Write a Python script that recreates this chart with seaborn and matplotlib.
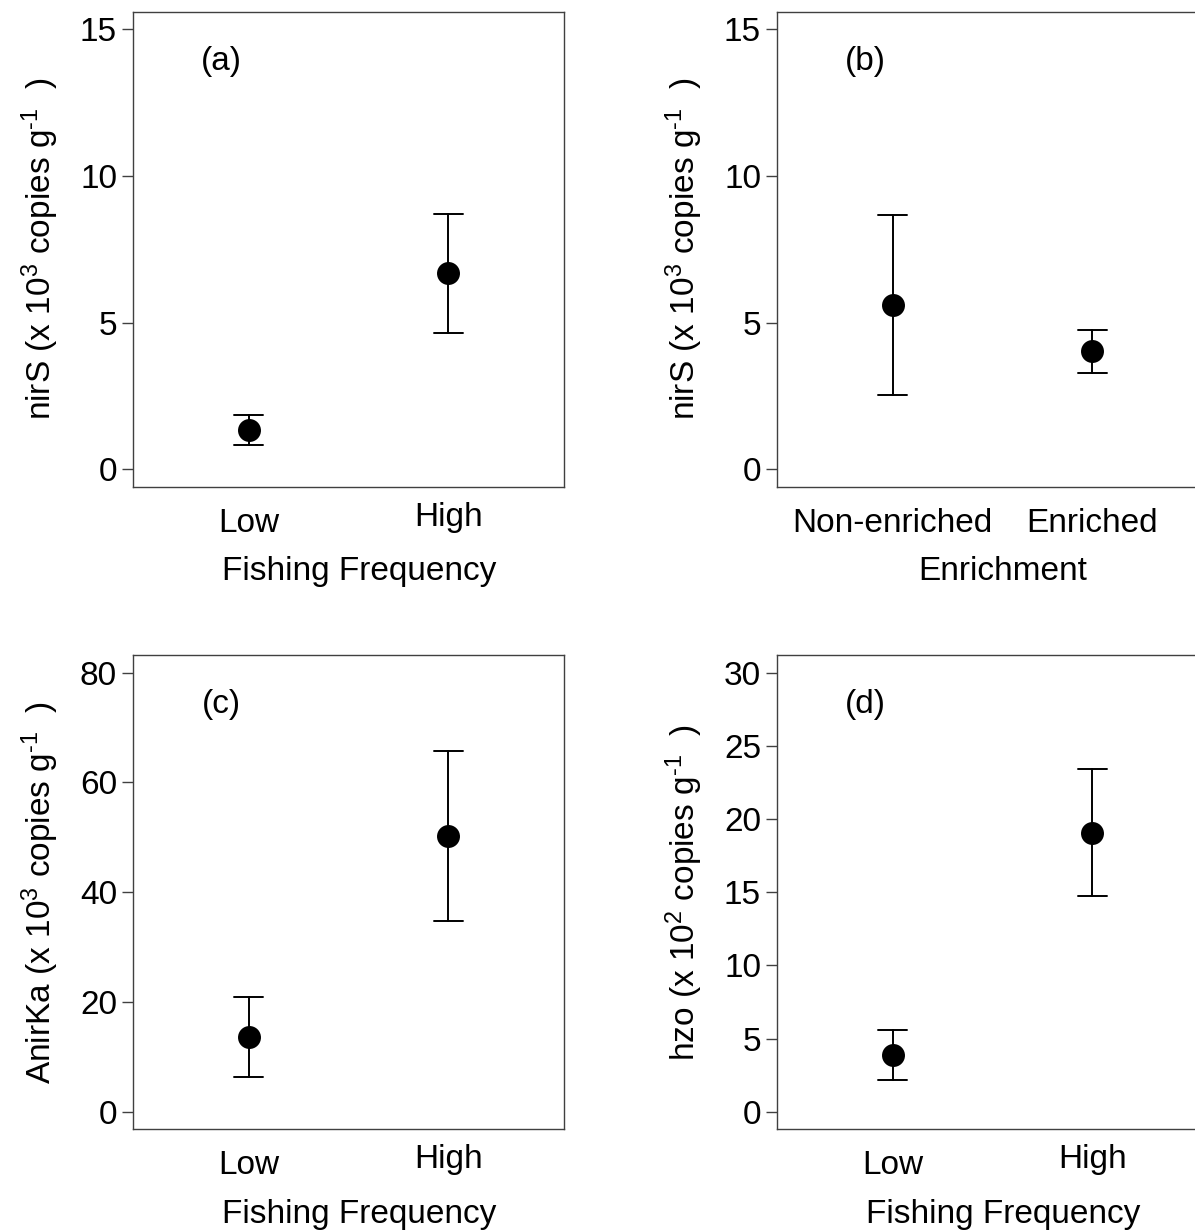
import numpy as np
import pandas as pd
import matplotlib
matplotlib.use("Agg")
import matplotlib.pyplot as plt
import matplotlib.transforms as mtransforms
import seaborn as sns

# ---- data (mean and standard error) ----
fishing_levels = ["Low", "High"]
enrich_levels = ["Non-enriched", "Enriched"]

nirS_fishing_mean = [1.34, 6.68]
nirS_fishing_se = [0.50, 2.03]

nirS_enrich_mean = [5.60, 4.02]
nirS_enrich_se = [3.05, 0.72]

anirka_fishing_mean = [13.65, 50.3]
anirka_fishing_se = [7.28, 15.5]

hzo_fishing_mean = [3.89, 19.06]
hzo_fishing_se = [1.73, 4.33]

yticks_nirS = [0, 5, 10, 15]
yticks_anirka = [0, 20, 40, 60, 80]
yticks_hzo = [0, 5, 10, 15, 20, 25, 30]

panel_labels = ["(a)", "(b)", "(c)", "(d)"]
xlabels = ["Fishing Frequency", "Enrichment", "Fishing Frequency", "Fishing Frequency"]
ylabels = [r"nirS (x 10$^{3}$ copies g$^{\text{-}1}$  )",
           r"nirS (x 10$^{3}$ copies g$^{\text{-}1}$  )",
           r"AnirKa (x 10$^{3}$ copies g$^{\text{-}1}$  )",
           r"hzo (x 10$^{2}$ copies g$^{\text{-}1}$  )"]

# ---- style ----
sns.set_style("ticks")
plt.rcParams["font.family"] = ["Liberation Sans", "DejaVu Sans"]
plt.rcParams["mathtext.fontset"] = "custom"
plt.rcParams["mathtext.rm"] = "Liberation Sans"
plt.rcParams["mathtext.it"] = "Liberation Sans"
plt.rcParams["mathtext.default"] = "regular"
plt.rcParams["text.color"] = "black"
plt.rcParams["axes.labelcolor"] = "black"
plt.rcParams["xtick.labelcolor"] = "black"
plt.rcParams["ytick.labelcolor"] = "black"

FS = 24
SPINE = "#404040"

W, H = 1195, 1231
fig = plt.figure(figsize=(W / 100, H / 100), dpi=100)

ax_w = 431 / W
panels = [
    dict(rect=[133 / W, 1 - 487 / H, ax_w, 475.5 / H], cats=fishing_levels,
         mean=nirS_fishing_mean, se=nirS_fishing_se, ylim=(-0.6, 15.6), yticks=yticks_nirS),
    dict(rect=[777 / W, 1 - 487 / H, ax_w, 475.5 / H], cats=enrich_levels,
         mean=nirS_enrich_mean, se=nirS_enrich_se, ylim=(-0.6, 15.6), yticks=yticks_nirS),
    dict(rect=[133 / W, 1 - 1129.4 / H, ax_w, 474.4 / H], cats=fishing_levels,
         mean=anirka_fishing_mean, se=anirka_fishing_se, ylim=(-3.2, 83.2), yticks=yticks_anirka),
    dict(rect=[777 / W, 1 - 1129.4 / H, ax_w, 474.4 / H], cats=fishing_levels,
         mean=hzo_fishing_mean, se=hzo_fishing_se, ylim=(-1.2, 31.2), yticks=yticks_hzo),
]

for i, p in enumerate(panels):
    ax = fig.add_axes(p["rect"])
    # two rows per group (mean - se, mean + se): their mean is the point,
    # their full range (100% percentile interval) is the error bar
    rows = []
    for c, m, s in zip(p["cats"], p["mean"], p["se"]):
        rows.append({"cat": c, "val": m - s})
        rows.append({"cat": c, "val": m + s})
    df = pd.DataFrame(rows)
    sns.pointplot(data=df, x="cat", y="val", order=p["cats"], estimator="mean",
                  errorbar=("pi", 100), color="black", markers="o",
                  markersize=14.5, linestyle="none", capsize=0.145,
                  err_kws={"linewidth": 1.4, "color": "black"}, ax=ax)
    ax.set_xlim(-0.58, 1.58)
    ax.set_ylim(*p["ylim"])
    ax.set_yticks(p["yticks"])
    ax.set_yticklabels([str(t) for t in p["yticks"]], fontsize=FS)
    ax.tick_params(axis="y", length=7.7, width=1.0, color=SPINE, pad=3.8,
                   labelsize=FS, direction="out")
    ax.tick_params(axis="x", length=0, pad=14.9, labelsize=FS)
    for sp in ax.spines.values():
        sp.set_visible(True)
        sp.set_color(SPINE)
        sp.set_linewidth(1.0)
    ax.set_xlabel(xlabels[i], fontsize=FS)
    ax.set_ylabel(ylabels[i], fontsize=FS)
    ax.xaxis.set_label_coords(0.524, -0.146)
    ax.yaxis.set_label_coords(-0.168, 0.5)
    ax.text(0.206, 0.895, panel_labels[i], transform=ax.transAxes,
            fontsize=FS, ha="center", va="center")
    # R centres tick labels on their ink: shift labels with descenders down
    for lab in ax.get_xticklabels():
        if any(ch in lab.get_text() for ch in "gjpqy"):
            lab.set_transform(lab.get_transform() +
                              mtransforms.ScaledTranslation(0, 6 / 100, fig.dpi_scale_trans))

fig.savefig("out.png", dpi=100, facecolor="white")
